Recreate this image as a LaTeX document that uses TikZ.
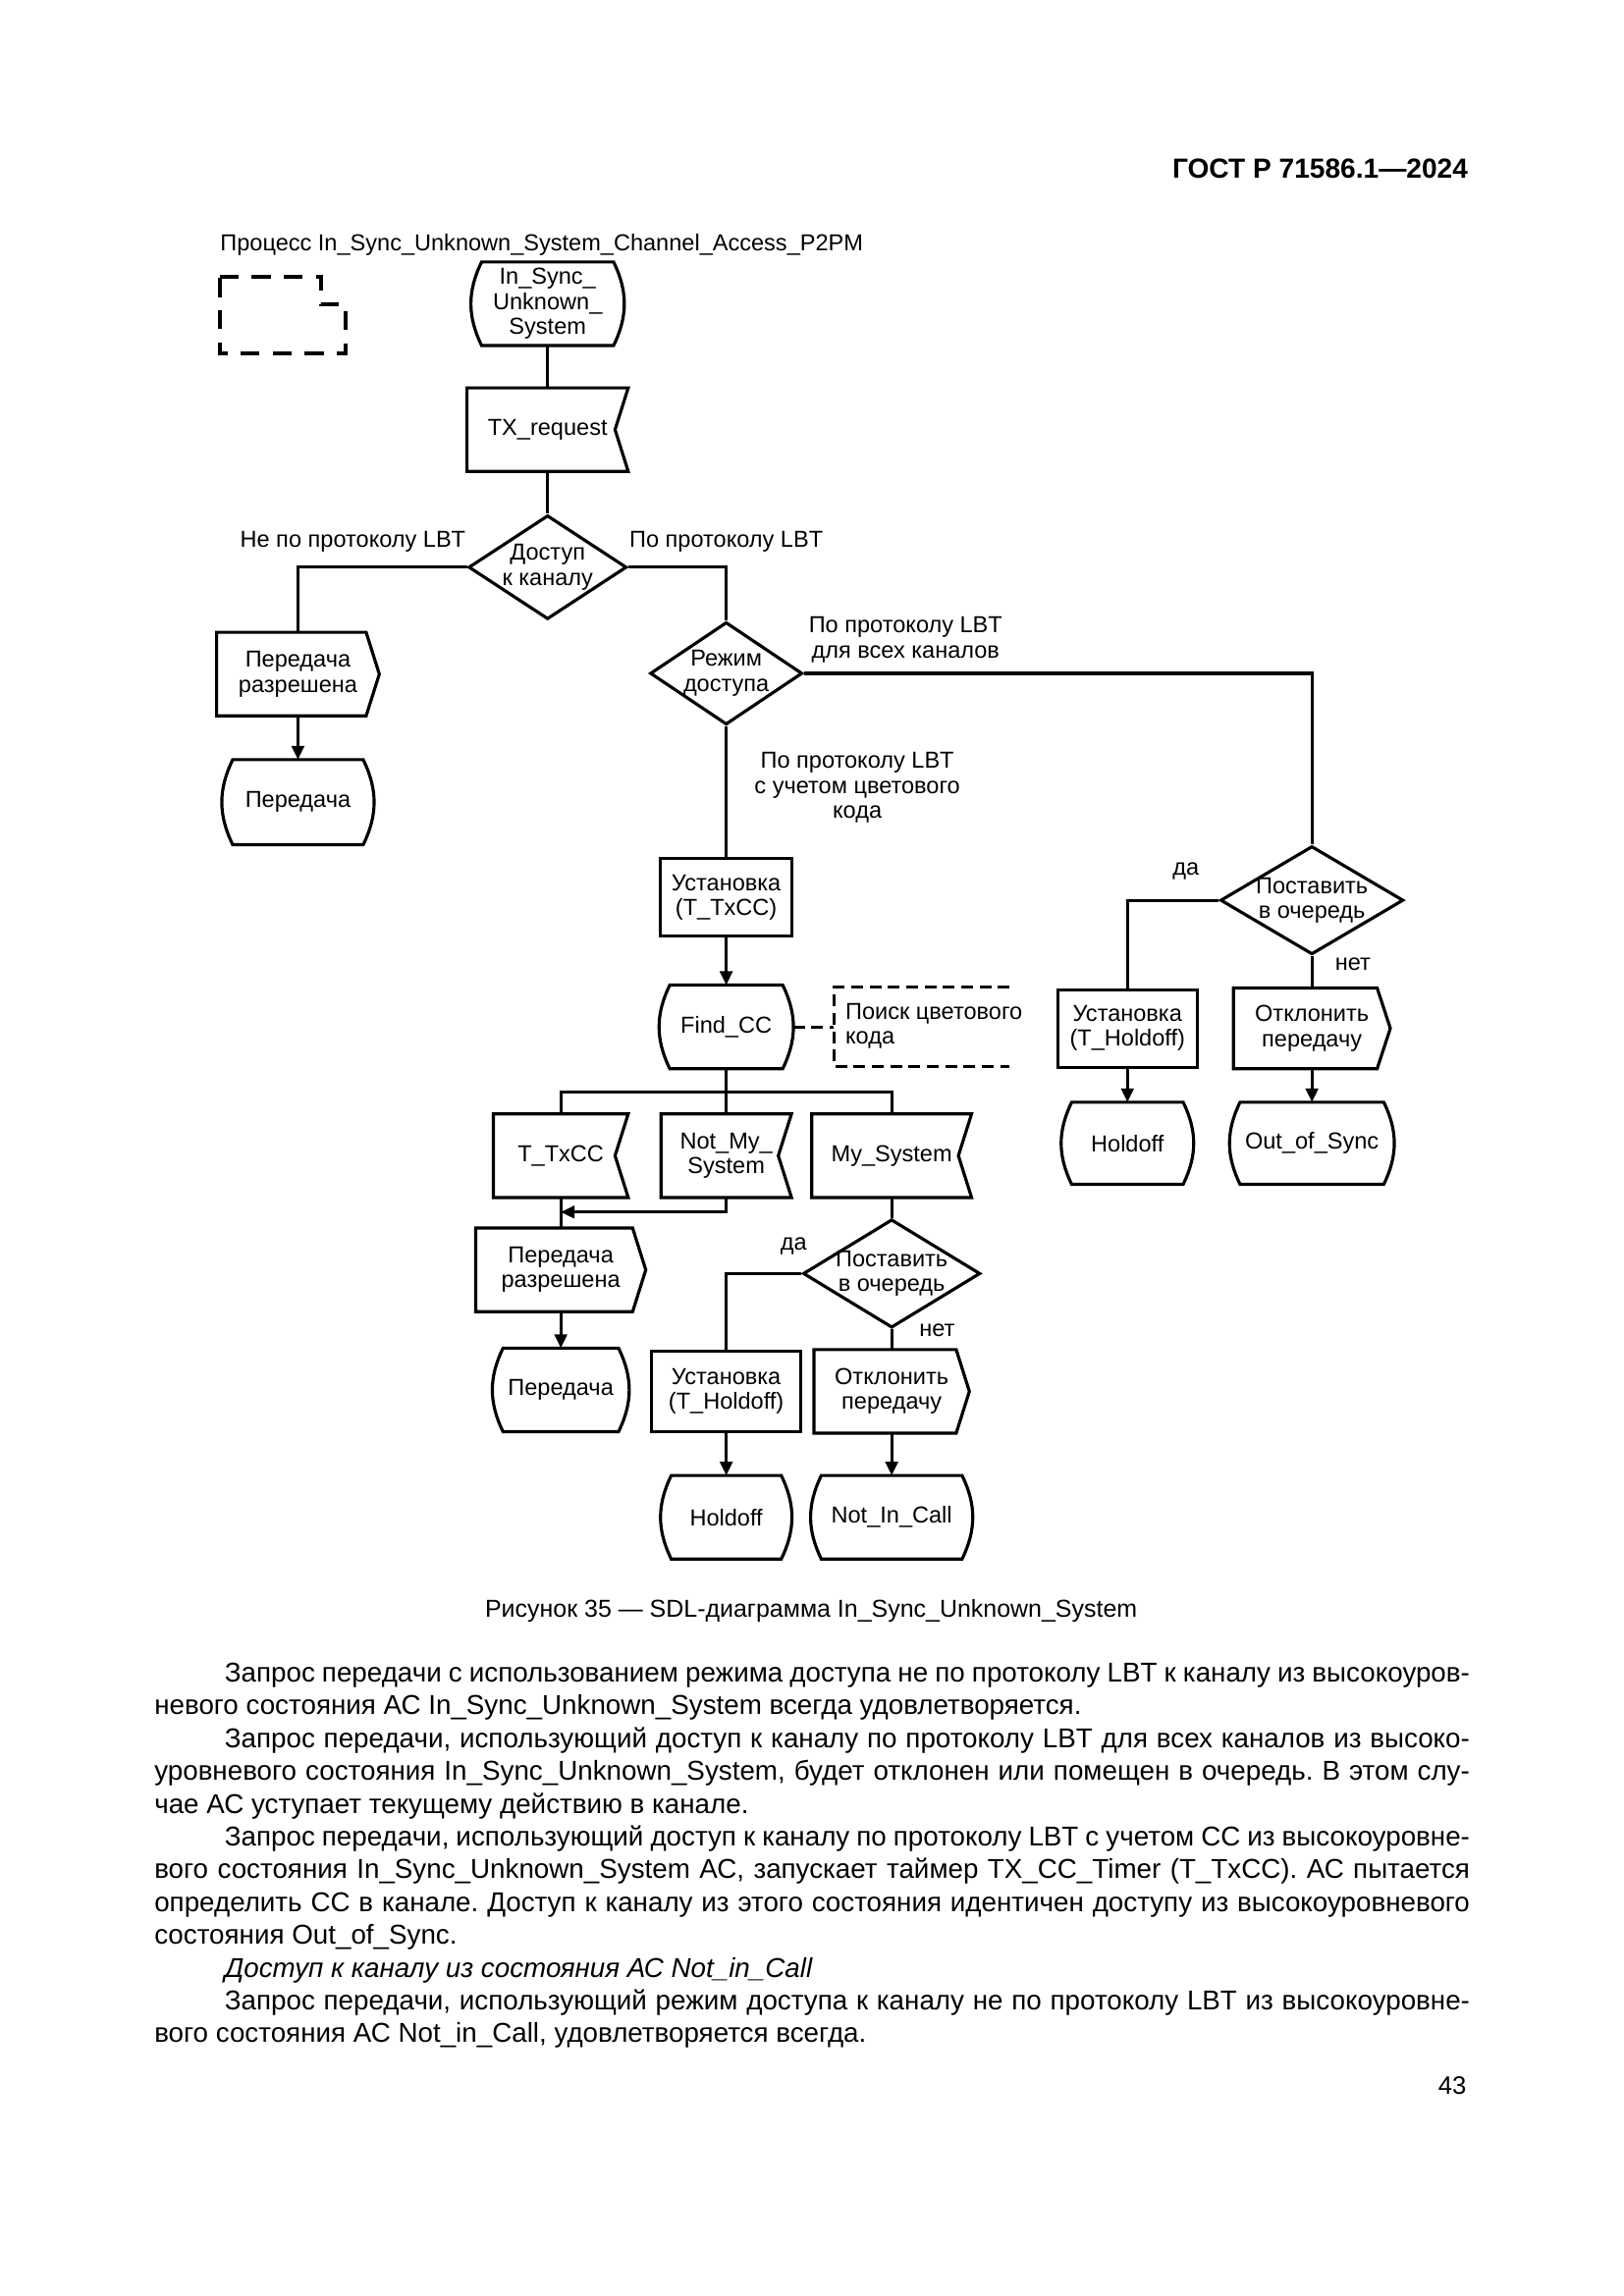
\documentclass[tikz,border=0pt]{standalone}
\usepackage{fontspec}
\setmainfont{Liberation Sans}
\usetikzlibrary{shapes.geometric,arrows.meta}

\newcommand\pu{0.014914cm}
\newcommand\dfont{\fontsize{6.7}{7.2}\selectfont}
\newcommand\bfont{\fontsize{7.9}{9.4}\selectfont}
\newlength\indw \setlength\indw{12.677cm}
\newlength\fullw \setlength\fullw{13.393cm}
\frenchspacing

\tikzset{
  sdl/.style={draw, line width=0.9pt, font=\dfont, align=center, inner sep=1pt},
  state/.style={sdl, draw=none, minimum width=75*\pu, minimum height=55*\pu,
    append after command={\pgfextra{\draw[line width=0.9pt]
      (\tikzlastnode.north west) to[bend right=26] (\tikzlastnode.south west)
      -- (\tikzlastnode.south east) to[bend right=26] (\tikzlastnode.north east) -- cycle;}}},
  task/.style={sdl, rectangle, minimum height=53*\pu},
  decision/.style={sdl, diamond, inner sep=-6pt},
  sigin/.style={sdl, draw=none, minimum height=55*\pu,
    append after command={\pgfextra{\draw[line width=0.9pt]
      (\tikzlastnode.north west) -- (\tikzlastnode.north east)
      -- ([xshift=-9*\pu]\tikzlastnode.east) -- (\tikzlastnode.south east)
      -- (\tikzlastnode.south west) -- cycle;}}},
  sigout/.style={sdl, draw=none, minimum height=55*\pu,
    append after command={\pgfextra{\draw[line width=0.9pt]
      (\tikzlastnode.north west) -- ([xshift=-9*\pu]\tikzlastnode.north east)
      -- (\tikzlastnode.east) -- ([xshift=-9*\pu]\tikzlastnode.south east)
      -- (\tikzlastnode.south west) -- cycle;}}},
  lbl/.style={font=\dfont, align=center, inner sep=0pt},
  conn/.style={line width=0.9pt},
  arr/.style={conn, -{Triangle[length=4pt,width=3.6pt]}},
  note/.style={line width=0.9pt, dash pattern=on 3.4pt off 1.9pt},
  bodyline/.style={anchor=base west, inner sep=0pt, font=\bfont},
}

\begin{document}
\begin{tikzpicture}[x=\pu, y=-\pu]
  \fill[white] (0,0) rectangle (1109,1568.5);
  \useasboundingbox (0,0) rectangle (1109,1568.5);

  \node[anchor=base east, inner sep=0pt, font=\fontsize{8}{10}\selectfont\bfseries] (gost) at (1003,122) {ГОСТ Р 71586.1—2024};

  % process name and frame symbol
  \node[lbl, anchor=base west] (proc) at (150,171.5) {Процесс In\_Sync\_Unknown\_System\_Channel\_Access\_P2PM};
  \draw[line width=1.1pt, dash pattern=on 5.5pt off 3.8pt] (150,189) -- (219,189) -- (219,208) -- (236,208) -- (236,241.5) -- (150,241.5) -- cycle;

  % main column
  \node[state, minimum width=88*\pu] (start) at (374,207.5) {In\_Sync\_\\Unknown\_\\System};
  \node[sigin, minimum width=108*\pu] (txreq) at (374,293.5) {TX\_request};
  \node[decision, minimum width=108*\pu, minimum height=71*\pu] (access) at (374,387.5) {Доступ\\к каналу};

  % no LBT
  \node[sigout, minimum width=109*\pu] (grant1) at (203.5,460.5) {Передача\\разрешена};
  \node[state, minimum width=87*\pu, minimum height=56*\pu] (tx1) at (203.5,548) {Передача};

  % LBT with colour code
  \node[decision, minimum width=104*\pu, minimum height=70*\pu] (mode) at (496,460) {Режим\\доступа};
  \node[task, minimum width=90*\pu] (settxcc) at (496,613) {Установка\\(T\_TxCC)};
  \node[state] (findcc) at (496,701.5) {Find\_CC};
  \node[minimum width=119*\pu, minimum height=53*\pu, inner sep=0pt] (cmt) at (629.5,701.5) {};
  \node[lbl, anchor=west, align=left] (cmttext) at (577,701) {Поиск цветового\\кода};

  \coordinate (bus) at (496,746);
  \node[sigin, minimum width=90*\pu] (timer) at (383,789.5) {T\_TxCC};
  \node[sigin, minimum width=87*\pu] (notmy) at (496,789.5) {Not\_My\_\\System};
  \node[sigin, minimum width=107*\pu] (mysys) at (609,789.5) {My\_System};
  \coordinate (merge) at (383,828);
  \node[sigout, minimum width=114*\pu] (grant2) at (383,867.5) {Передача\\разрешена};
  \node[state] (tx2) at (383,949.5) {Передача};
  \node[decision, minimum width=121*\pu, minimum height=74*\pu] (queue2) at (609,870) {Поставить\\в очередь};
  \node[task, minimum width=102*\pu, minimum height=55*\pu] (sethold2) at (496,950.5) {Установка\\(T\_Holdoff)};
  \node[sigout, minimum width=104*\pu] (reject2) at (609,950.5) {Отклонить\\передачу};
  \node[state, minimum width=73*\pu] (hold2) at (496,1036.5) {Holdoff};
  \node[state, minimum width=94*\pu] (nocall) at (609,1036.5) {Not\_In\_Call};

  % LBT for all channels
  \node[decision, minimum width=125*\pu, minimum height=74*\pu] (queue1) at (896,615) {Поставить\\в очередь};
  \node[task, minimum width=95*\pu] (sethold1) at (770,702.5) {Установка\\(T\_Holdoff)};
  \node[sigout, minimum width=105*\pu, minimum height=53*\pu] (reject1) at (896,702.5) {Отклонить\\передачу};
  \node[state, minimum width=74*\pu, minimum height=54*\pu] (hold1) at (770,781) {Holdoff};
  \node[state, minimum width=95*\pu, minimum height=54*\pu] (outsync) at (896,781) {Out\_of\_Sync};

  % branch labels
  \node[lbl] (lnolbt) at (241,370) {Не по протоколу LBT};
  \node[lbl] (llbt) at (496,370) {По протоколу LBT};
  \node[lbl] (lall) at (618.5,437) {По протоколу LBT\\для всех каналов};
  \node[lbl] (lcc) at (585.5,538) {По протоколу LBT\\с учетом цветового\\кода};
  \node[lbl] (lyes1) at (810,595) {да};
  \node[lbl] (lno1) at (924,659) {нет};
  \node[lbl] (lyes2) at (542,851) {да};
  \node[lbl] (lno2) at (640,909) {нет};

  % connectors
  \draw[conn] (start) -- (txreq);
  \draw[conn] (txreq) -- (access);
  \draw[conn] (access.west) -| (grant1.north);
  \draw[conn] (access.east) -| (mode.north);
  \draw[arr] (grant1) -- (tx1);
  \draw[conn] (mode.east) -| (queue1.north);
  \draw[conn] (mode) -- (settxcc);
  \draw[arr] (settxcc) -- (findcc);
  \draw[note] ([xshift=7*\pu]findcc.east) -- (cmt.west);
  \draw[note] (cmt.north east) -- (cmt.north west) -- (cmt.south west) -- (cmt.south east);
  \draw[conn] (findcc) -- (notmy);
  \draw[conn] (timer.north) |- (bus) -| (mysys.north);
  \draw[conn] (timer) -- (grant2);
  \draw[arr] (notmy.south) |- (merge);
  \draw[arr] (grant2) -- (tx2);
  \draw[conn] (mysys) -- (queue2);
  \draw[conn] (queue2.west) -| (sethold2.north);
  \draw[conn] (queue2) -- (reject2);
  \draw[arr] (sethold2) -- (hold2);
  \draw[arr] (reject2) -- (nocall);
  \draw[conn] (queue1.west) -| (sethold1.north);
  \draw[conn] (queue1) -- (reject1);
  \draw[arr] (sethold1) -- (hold1);
  \draw[arr] (reject1) -- (outsync);

  % caption and text
  \node[anchor=base, inner sep=0pt, font=\fontsize{7.1}{8}\selectfont] (caption) at (554,1105) {Рисунок 35 — SDL-диаграмма In\_Sync\_Unknown\_System};

  \node[bodyline] (t1) at (153,1149) {\makebox[\indw][s]{Запрос передачи с использованием режима доступа не по протоколу LBT к каналу из высокоуров-}};
  \node[bodyline] (t2) at (105,1171.4) {невого состояния АС In\_Sync\_Unknown\_System всегда удовлетворяется.};
  \node[bodyline] (t3) at (153,1193.8) {\makebox[\indw][s]{Запрос передачи, использующий доступ к каналу по протоколу LBT для всех каналов из высоко-}};
  \node[bodyline] (t4) at (105,1216.2) {\makebox[\fullw][s]{уровневого состояния In\_Sync\_Unknown\_System, будет отклонен или помещен в очередь. В этом слу-}};
  \node[bodyline] (t5) at (105,1238.6) {чае АС уступает текущему действию в канале.};
  \node[bodyline] (t6) at (153,1261) {\makebox[\indw][s]{Запрос передачи, использующий доступ к каналу по протоколу LBT с учетом CC из высокоуровне-}};
  \node[bodyline] (t7) at (105,1283.4) {\makebox[\fullw][s]{вого состояния In\_Sync\_Unknown\_System АС, запускает таймер TX\_CC\_Timer (T\_TxCC). АС пытается}};
  \node[bodyline] (t8) at (105,1305.8) {\makebox[\fullw][s]{определить CC в канале. Доступ к каналу из этого состояния идентичен доступу из высокоуровневого}};
  \node[bodyline] (t9) at (105,1328.2) {состояния Out\_of\_Sync.};
  \node[bodyline, font=\bfont\itshape] (t10) at (153,1350.6) {Доступ к каналу из состояния АС Not\_in\_Call};
  \node[bodyline] (t11) at (153,1373) {\makebox[\indw][s]{Запрос передачи, использующий режим доступа к каналу не по протоколу LBT из высокоуровне-}};
  \node[bodyline] (t12) at (105,1395.4) {вого состояния АС Not\_in\_Call, удовлетворяется всегда.};

  \node[anchor=base east, inner sep=0pt, font=\fontsize{7.3}{9}\selectfont] (pagenum) at (1002,1431) {43};
\end{tikzpicture}
\end{document}
